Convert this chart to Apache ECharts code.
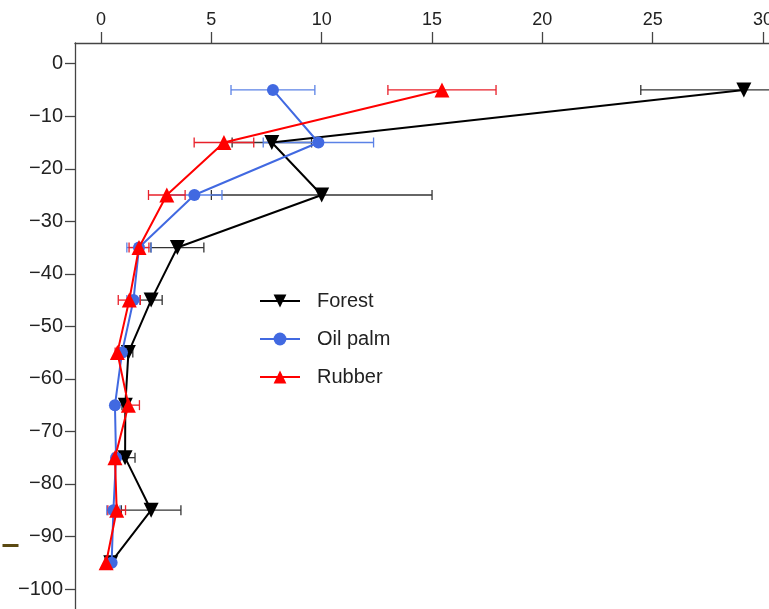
<!DOCTYPE html>
<html>
<head>
<meta charset="utf-8">
<script src="https://cdn.jsdelivr.net/npm/echarts@6/dist/echarts.min.js"></script>
<style>
html,body{margin:0;padding:0;background:#fff;}
#chart{width:769px;height:609px;}
</style>
</head>
<body>
<div id="chart"></div>
<script>
// soil depth (cm) of each sampling layer
var depths = [-5, -15, -25, -35, -45, -55, -65, -75, -85, -95];

// mean values and error (half width) for each land use
var forestMean = [29.13, 7.74, 10.0, 3.46, 2.27, 1.24, 1.1, 1.09, 2.27, 0.44];
var forestErr  = [4.67, 1.8, 5.0, 1.2, 0.5, 0.2, 0.15, 0.45, 1.35, 0.1];
var palmMean   = [7.79, 9.85, 4.23, 1.72, 1.47, 0.95, 0.63, 0.68, 0.56, 0.48];
var palmErr    = [1.9, 2.5, 1.25, 0.55, 0.3, 0.15, 0.1, 0.1, 0.3, 0.05];
var rubberMean = [15.45, 5.57, 2.98, 1.72, 1.28, 0.74, 1.24, 0.63, 0.71, 0.23];
var rubberErr  = [2.45, 1.35, 0.83, 0.45, 0.5, 0.1, 0.5, 0.1, 0.4, 0.05];

var xTicks = [0, 5, 10, 15, 20, 25, 30];
var yTicks = [0, -10, -20, -30, -40, -50, -60, -70, -80, -90, -100];

var font = 'Liberation Sans, Arial, sans-serif';

function points(mean){
	return depths.map(function(d, i){ return [mean[i], d]; });
}

// horizontal error bars with small caps
function errorBars(name, mean, err, color, z){
	var data = depths.map(function(d, i){ return [mean[i] - err[i], mean[i] + err[i], d]; });
	return {
		type: 'custom',
		name: name + ' err',
		silent: true,
		z: z,
		encode: {x: [0, 1], y: 2},
		data: data,
		renderItem: function(params, api){
			var lo = api.coord([api.value(0), api.value(2)]);
			var hi = api.coord([api.value(1), api.value(2)]);
			var cap = 5;
			var st = {stroke: color, lineWidth: 1.3};
			return {type: 'group', children: [
				{type: 'line', shape: {x1: lo[0], y1: lo[1], x2: hi[0], y2: hi[1]}, style: st},
				{type: 'line', shape: {x1: lo[0], y1: lo[1] - cap, x2: lo[0], y2: lo[1] + cap}, style: st},
				{type: 'line', shape: {x1: hi[0], y1: hi[1] - cap, x2: hi[0], y2: hi[1] + cap}, style: st}
			]};
		}
	};
}

function lineSeries(name, mean, color, symbol, size, rotate, z){
	return {
		type: 'line',
		name: name,
		data: points(mean),
		symbol: symbol,
		symbolSize: size,
		symbolRotate: rotate,
		z: z,
		color: color,
		lineStyle: {color: color, width: 2},
		itemStyle: {color: color},
		emphasis: {disabled: true},
		animation: false
	};
}

var chart = echarts.init(document.getElementById('chart'));
chart.setOption({
	animation: false,
	backgroundColor: '#fff',
	textStyle: {fontFamily: font},
	grid: {left: 75, top: 43, right: 0, bottom: 0, outerBoundsMode: 'none'},
	legend: {
		data: ['Forest', 'Oil palm', 'Rubber'],
		orient: 'vertical',
		left: 254, top: 286,
		itemWidth: 40, itemHeight: 16, itemGap: 18,
		textStyle: {fontSize: 20, color: '#222', fontFamily: font, padding: [0, 0, 0, 12]},
		selectedMode: false
	},
	xAxis: {
		type: 'value',
		position: 'top',
		min: -1.18, max: 30.27,
		splitNumber: 6,
		splitLine: {show: false},
		axisLine: {onZero: false, lineStyle: {color: '#444', width: 1.3}},
		axisTick: {length: 11, lineStyle: {color: '#444', width: 1.3}},
		axisLabel: {
			fontSize: 18, color: '#222', margin: 14,
			showMinLabel: false, showMaxLabel: false,
			formatter: function(v){ return xTicks.indexOf(v) >= 0 ? String(v) : ''; }
		}
	},
	yAxis: {
		type: 'value',
		min: -103.81, max: 3.94,
		splitNumber: 10,
		splitLine: {show: false},
		axisLine: {onZero: false, lineStyle: {color: '#444', width: 1.3}},
		axisTick: {length: 10, lineStyle: {color: '#444', width: 1.3}},
		axisLabel: {
			fontSize: 20, color: '#222', margin: 12,
			showMinLabel: false, showMaxLabel: false,
			formatter: function(v){ return yTicks.indexOf(v) >= 0 ? String(v).replace('-', '\u2212') : ''; }
		}
	},
	graphic: [{
		type: 'line', left: 0, top: 543,
		shape: {x1: 0, y1: 0, x2: 16, y2: 0},
		style: {stroke: '#5b4a12', lineWidth: 3}
	}],
	series: [
		errorBars('Forest', forestMean, forestErr, '#333', 1),
		errorBars('Oil palm', palmMean, palmErr, '#5b82e6', 1),
		errorBars('Rubber', rubberMean, rubberErr, '#e8202a', 1),
		lineSeries('Forest', forestMean, '#000', 'triangle', 15, 180, 2),
		lineSeries('Oil palm', palmMean, '#4169e1', 'circle', 12, 0, 3),
		lineSeries('Rubber', rubberMean, '#ff0000', 'triangle', 15, 0, 4)
	]
});
</script>
</body>
</html>
